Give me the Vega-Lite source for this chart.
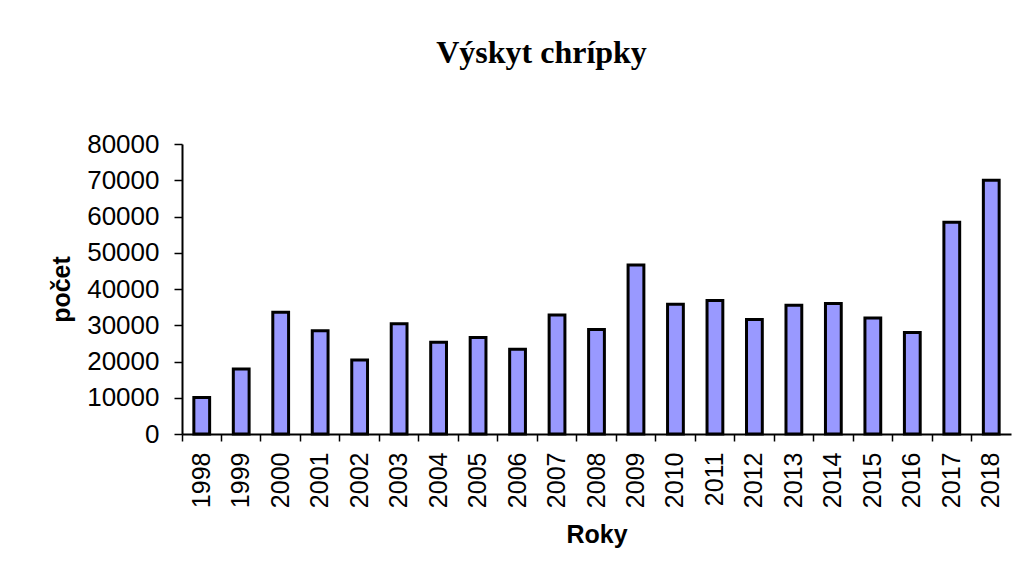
{
  "$schema": "https://vega.github.io/schema/vega-lite/v6.json",
  "width": 829,
  "height": 290,
  "autosize": {"type": "none"},
  "padding": {"left": 182, "top": 144, "right": 19, "bottom": 150},
  "background": "white",
  "title": {
    "text": "Výskyt chrípky",
    "font": "Liberation Serif",
    "fontSize": 32,
    "fontWeight": "bold",
    "color": "black",
    "anchor": "middle",
    "frame": "group",
    "dx": -55,
    "offset": 36,
    "baseline": "alphabetic"
  },
  "data": {
    "values": [
      {"rok": "1998", "pocet": 10100},
      {"rok": "1999", "pocet": 17900},
      {"rok": "2000", "pocet": 33600},
      {"rok": "2001", "pocet": 28500},
      {"rok": "2002", "pocet": 20400},
      {"rok": "2003", "pocet": 30400},
      {"rok": "2004", "pocet": 25300},
      {"rok": "2005", "pocet": 26600},
      {"rok": "2006", "pocet": 23400},
      {"rok": "2007", "pocet": 32800},
      {"rok": "2008", "pocet": 28800},
      {"rok": "2009", "pocet": 46600},
      {"rok": "2010", "pocet": 35800},
      {"rok": "2011", "pocet": 36800},
      {"rok": "2012", "pocet": 31600},
      {"rok": "2013", "pocet": 35500},
      {"rok": "2014", "pocet": 36000},
      {"rok": "2015", "pocet": 32000},
      {"rok": "2016", "pocet": 28000},
      {"rok": "2017", "pocet": 58400},
      {"rok": "2018", "pocet": 70000}
    ]
  },
  "encoding": {
    "y": {
      "field": "pocet",
      "type": "quantitative",
      "scale": {"domain": [0, 80000], "nice": false},
      "axis": {
        "title": "počet",
        "titleFont": "Liberation Sans",
        "titleFontSize": 25,
        "titleFontWeight": "bold",
        "titleColor": "black",
        "titlePadding": 12,
        "labelFont": "Liberation Sans",
        "labelFontSize": 26,
        "labelColor": "black",
        "labelPadding": 15,
        "labelOverlap": false,
        "labelFlush": false,
        "values": [0, 10000, 20000, 30000, 40000, 50000, 60000, 70000, 80000],
        "format": "d",
        "grid": false,
        "tickSize": 8,
        "tickColor": "black",
        "tickWidth": 1.5,
        "domainColor": "black",
        "domainWidth": 2
      }
    }
  },
  "layer": [
    {
      "mark": {"type": "bar", "fill": "#9999FF", "stroke": "black", "strokeWidth": 3},
      "encoding": {
        "x": {
          "field": "rok",
          "type": "ordinal",
          "scale": {"paddingInner": 0.6, "paddingOuter": 0.3},
          "axis": {
            "title": "Roky",
            "titleFont": "Liberation Sans",
            "titleFontSize": 25,
            "titleFontWeight": "bold",
            "titleColor": "black",
            "titlePadding": 15,
            "labelFont": "Liberation Sans",
            "labelFontSize": 25,
            "labelColor": "black",
            "labelAngle": -90,
            "labelAlign": "right",
            "labelBaseline": "middle",
            "labelPadding": 18,
            "labelOverlap": false,
            "ticks": false,
            "tickSize": 0,
            "domainColor": "black",
            "domainWidth": 2
          }
        }
      }
    },
    {
      "mark": {"type": "bar", "opacity": 0},
      "encoding": {
        "x": {
          "field": "rok",
          "type": "ordinal",
          "axis": {
            "orient": "bottom",
            "title": null,
            "labels": false,
            "domain": false,
            "ticks": true,
            "tickSize": 7,
            "tickWidth": 1.5,
            "tickColor": "black",
            "bandPosition": -0.75
          }
        }
      }
    }
  ],
  "resolve": {"axis": {"x": "independent"}},
  "config": {"view": {"stroke": null}, "axisY": {"labelOverlap": false}}
}
